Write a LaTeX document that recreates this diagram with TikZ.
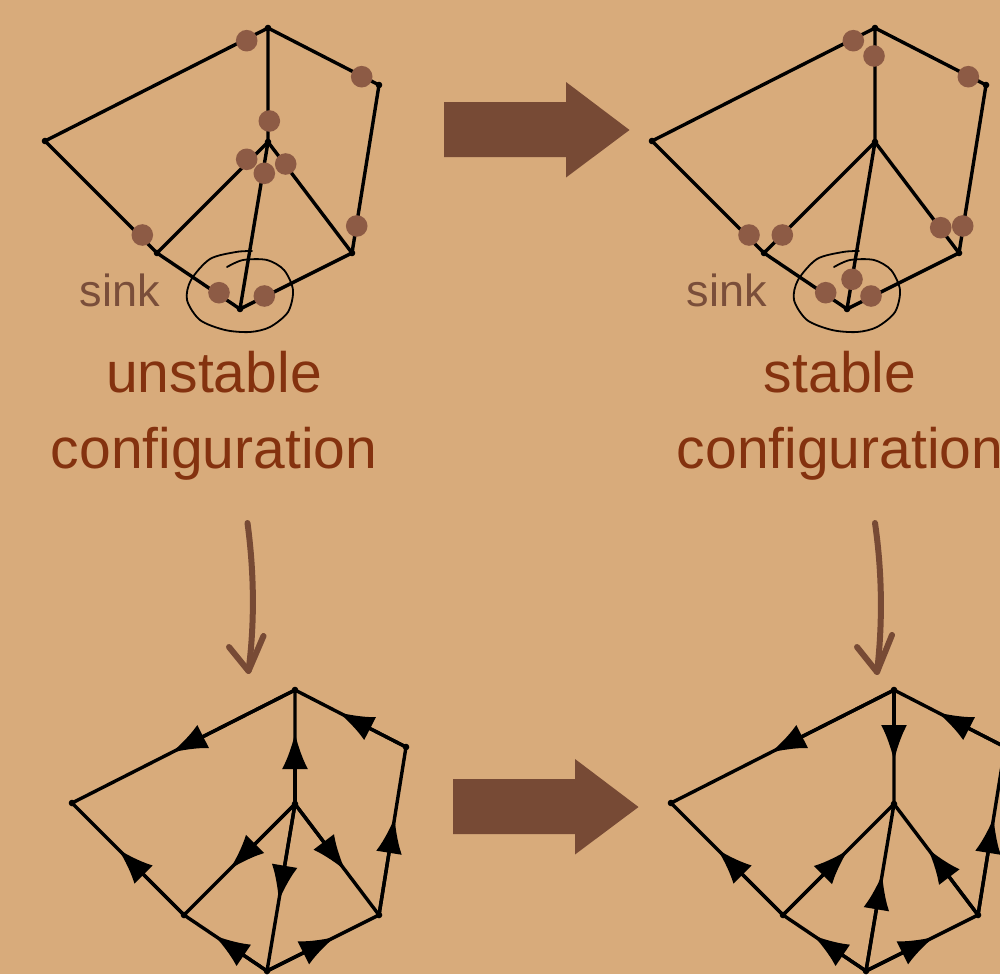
\documentclass[tikz,border=0pt]{standalone}
\usepackage{fontspec}
\setmainfont{Liberation Sans}
\usetikzlibrary{arrows.meta,calc}
\definecolor{bg}{HTML}{D8AB7B}
\definecolor{chip}{HTML}{8D5B45}
\definecolor{bigarrow}{HTML}{774A35}
\definecolor{labelc}{HTML}{84320F}
\definecolor{sinkc}{HTML}{7A4E3A}
\tikzset{
  edge/.style={draw=black,line width=3.4pt,line cap=round,line join=round},
  chipdot/.style={fill=chip},
  vdot/.style={fill=black},
  sinkline/.style={draw=black,line width=1.8pt,line cap=round},
  cfg/.style={text=labelc,font=\fontsize{57}{60}\selectfont,inner sep=0pt,anchor=base},
  sinklabel/.style={text=sinkc,font=\fontsize{45}{48}\selectfont,inner sep=0pt,anchor=base},
  bigarr/.style={fill=bigarrow},
  curvy/.style={draw=bigarrow,line width=6pt,line cap=round,line join=round},
  midtip/.style={edge,-{Latex[length=36pt,width=26pt]}}
}
\newcommand\mkgraph[3]{%
  \coordinate (#1T) at ({268+#2},{28+#3});
  \coordinate (#1L) at ({45+#2},{141+#3});
  \coordinate (#1R) at ({379+#2},{85+#3});
  \coordinate (#1C) at ({268+#2},{142+#3});
  \coordinate (#1LL) at ({157+#2},{253+#3});
  \coordinate (#1LR) at ({352+#2},{253+#3});
  \coordinate (#1B) at ({240+#2},{309+#3});
  \draw[edge] (#1T)--(#1L) (#1T)--(#1R) (#1T)--(#1C) (#1L)--(#1LL) (#1R)--(#1LR)
    (#1C)--(#1LL) (#1C)--(#1B) (#1C)--(#1LR) (#1LL)--(#1B) (#1LR)--(#1B);
  \foreach \v in {T,L,R,C,LL,LR,B} {\fill[vdot] (#1\v) circle (3.3);}
}
\newcommand\marr[2]{\draw[midtip] (#1) -- ($(#1)!0.5!(#2)!14pt!(#2)$);}
\newcommand\sinkloop[1]{%
  \draw[sinkline] plot[smooth] coordinates {({227+#1},267) ({243+#1},260) ({267+#1},260)
    ({284+#1},270) ({293+#1},290) ({288+#1},312) ({270+#1},327) ({250+#1},332) ({225+#1},330)
    ({200+#1},320) ({187+#1},300) ({191+#1},280) ({210+#1},259) ({236+#1},252) ({252+#1},251)};
}
\begin{document}
\begin{tikzpicture}[x=1pt,y=-1pt]
\useasboundingbox (0,0) rectangle (1000,974);
\fill[bg] (0,0) rectangle (1000,974);
\clip (0,0) rectangle (1000,974);

% ---------- top-left: unstable configuration
\mkgraph{a}{0}{0}
\foreach \p in {(246.7,40.7),(361.7,76.7),(269.3,121),(246.7,159.3),(285.7,164),(264.3,173.3),
  (142.3,235),(356.7,226),(219,292.7),(264.3,296)} {\fill[chipdot] \p circle (10.8);}
\sinkloop{0}
\node[sinklabel] (sinka) at (120,306) {sink};
\node[cfg] (unst) at (214,392) {unstable};
\node[cfg] (confa) at (214,468) {configuration};

% ---------- top-right: stable configuration
\mkgraph{b}{607}{0}
\foreach \p in {(853.3,40.7),(874,56),(968.3,76.7),(749,235),(782.3,235),(940.7,227.7),
  (962.7,226),(825.7,292.7),(871,296),(852,279.3)} {\fill[chipdot] \p circle (10.8);}
\sinkloop{607}
\node[sinklabel] (sinkb) at (727,306) {sink};
\node[cfg] (stab) at (840,392) {stable};
\node[cfg] (confb) at (840,468) {configuration};

% ---------- big arrows
\fill[bigarr] (444,102)--(566,102)--(566,82)--(629.5,130)--(566,177.5)--(566,157)--(444,157)--cycle;
\fill[bigarr] (453,779)--(575,779)--(575,759)--(638.5,807)--(575,854.5)--(575,834)--(453,834)--cycle;

% ---------- curved arrows
\draw[curvy] (247.5,523) .. controls (254.5,575) and (254.5,625) .. (248.5,671);
\draw[curvy] (229,647) -- (248.5,671) -- (263.5,636);
\draw[curvy] (875,523) .. controls (882.5,575) and (882.5,625) .. (877,672);
\draw[curvy] (857,647) -- (877,672) -- (892,635);

% ---------- bottom-left orientation
\mkgraph{c}{27}{662}
\marr{cT}{cL}
\marr{cC}{cT}
\marr{cR}{cT}
\marr{cLR}{cR}
\marr{cLL}{cL}
\marr{cC}{cLL}
\marr{cC}{cB}
\marr{cC}{cLR}
\marr{cB}{cLL}
\marr{cB}{cLR}

% ---------- bottom-right orientation
\mkgraph{d}{626}{662}
\marr{dT}{dL}
\marr{dT}{dC}
\marr{dR}{dT}
\marr{dLR}{dR}
\marr{dLL}{dL}
\marr{dLL}{dC}
\marr{dB}{dC}
\marr{dLR}{dC}
\marr{dB}{dLL}
\marr{dB}{dLR}
\end{tikzpicture}
\end{document}
